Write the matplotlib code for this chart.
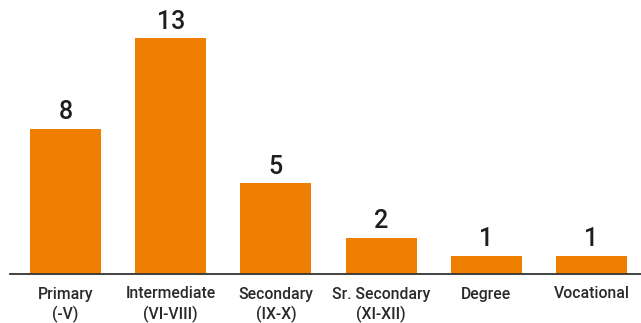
import matplotlib
matplotlib.use("Agg")
import matplotlib.pyplot as plt
import numpy as np

plt.rcParams["font.family"] = ["Roboto", "DejaVu Sans"]

categories = ["Primary\n(-V)", "Intermediate\n(VI-VIII)", "Secondary\n(IX-X)",
              "Sr. Secondary\n(XI-XII)", "Degree", "Vocational"]
counts = [8, 13, 5, 2, 1, 1]

fig = plt.figure(figsize=(6.41, 3.23), dpi=100)
ax = fig.add_axes([10 / 641, 49 / 323, 631 / 641, 274 / 323])

x = np.arange(len(categories))
bars = ax.bar(x, counts, width=0.675, color="#EF7F00")

for b, v in zip(bars, counts):
    ax.text(b.get_x() + b.get_width() / 2, v + 0.25, str(v),
            ha="center", va="bottom", fontsize=18, fontweight="medium",
            color="#1e1e1e")

ax.set_xlim(-0.528, 5.47)
ax.set_ylim(0, 15.1)

for s in ["top", "right", "left"]:
    ax.spines[s].set_visible(False)
ax.spines["bottom"].set_color("#333333")
ax.spines["bottom"].set_linewidth(1.3)

ax.set_yticks([])
ax.set_xticks(x)
ax.set_xticklabels(categories, fontsize=11.3, fontweight="medium",
                   color="#2a2a2a", linespacing=1.3)
ax.tick_params(axis="x", length=0, pad=9)

fig.savefig("out.png", dpi=100)
